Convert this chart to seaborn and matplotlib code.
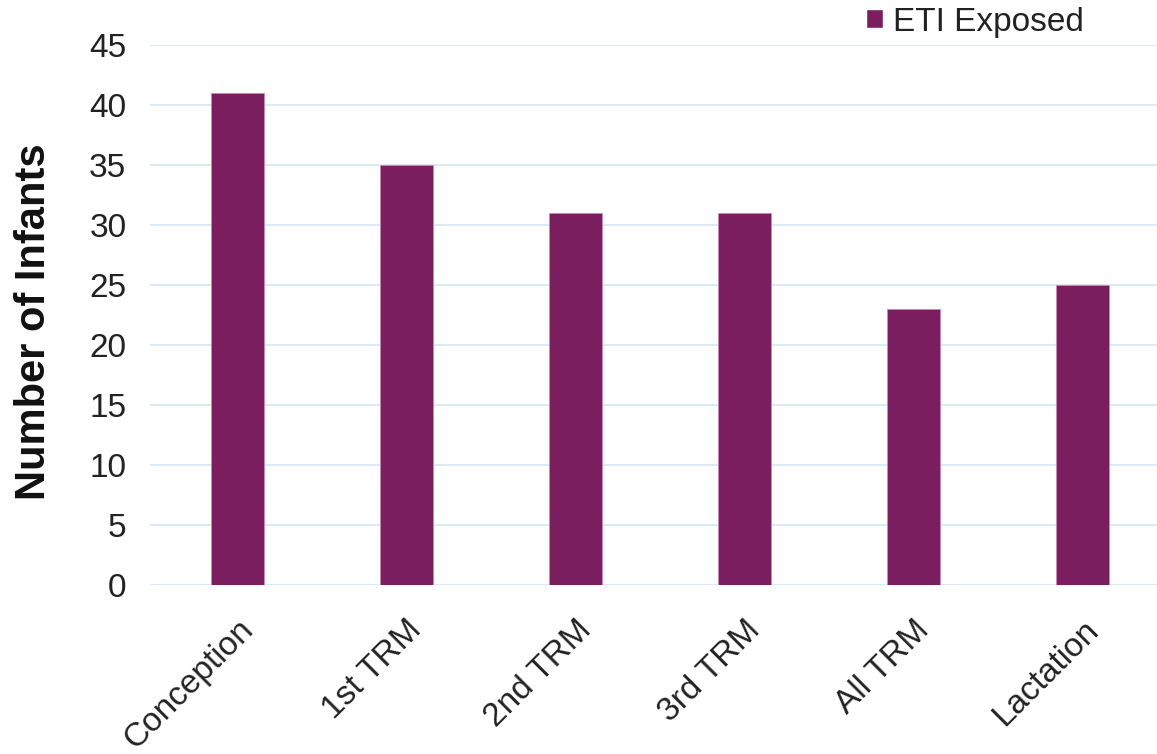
import matplotlib
matplotlib.use("Agg")
import matplotlib.pyplot as plt
import seaborn as sns
import pandas as pd
from matplotlib.patches import Patch

categories = ["Conception", "1st TRM", "2nd TRM", "3rd TRM", "All TRM", "Lactation"]
values = [41, 35, 31, 31, 23, 25]
series_name = "ETI Exposed"
yticks = [0, 5, 10, 15, 20, 25, 30, 35, 40, 45]

sns.set_theme(style="white")
plt.rcParams['font.family'] = ['Liberation Sans', 'DejaVu Sans']

df = pd.DataFrame({"cat": categories, "val": values})
color = "#7B1E5F"

W, H = 1157, 754
left_px, top_px, bottom_px = 150, 45, 585
fig = plt.figure(figsize=(W/100, H/100), dpi=100)
ax = fig.add_axes([left_px/W, 1-bottom_px/H, 1-left_px/W, (bottom_px-top_px)/H])
sns.barplot(data=df, x="cat", y="val", color=color, width=0.314, ax=ax,
            saturation=1, edgecolor="#C98BB5", linewidth=0.6)
ax.set_ylim(0, 45)
ax.set_xlim(-0.515, 5.44)
ax.set_yticks(yticks)
ax.yaxis.grid(True, color="#DCEAF6", linewidth=1.5)
ax.set_axisbelow(True)
for s in ax.spines.values():
    s.set_visible(False)
ax.tick_params(axis='y', labelsize=24, colors="#222222", pad=17, length=0)
ax.tick_params(axis='x', labelsize=24, colors="#222222", length=0, pad=21)
ax.set_xticks(range(len(categories)))
ax.set_xticklabels(categories, rotation=45, ha="right", rotation_mode="anchor")
ax.set_xlabel("")
ax.set_ylabel("Number of Infants", fontsize=30, fontweight="bold", color="#111111")
ax.yaxis.set_label_coords((54-left_px)/(W-left_px), (bottom_px-322)/(bottom_px-top_px))

leg = fig.legend(handles=[Patch(facecolor=color, label=series_name)],
                 loc="center left", bbox_to_anchor=(866/W, 1-22/H),
                 frameon=False, fontsize=24, handlelength=0.5, handleheight=0.5,
                 handletextpad=0.3, borderaxespad=0, borderpad=0)
for t in leg.get_texts():
    t.set_color("#222222")

fig.savefig("out.png", dpi=100)
